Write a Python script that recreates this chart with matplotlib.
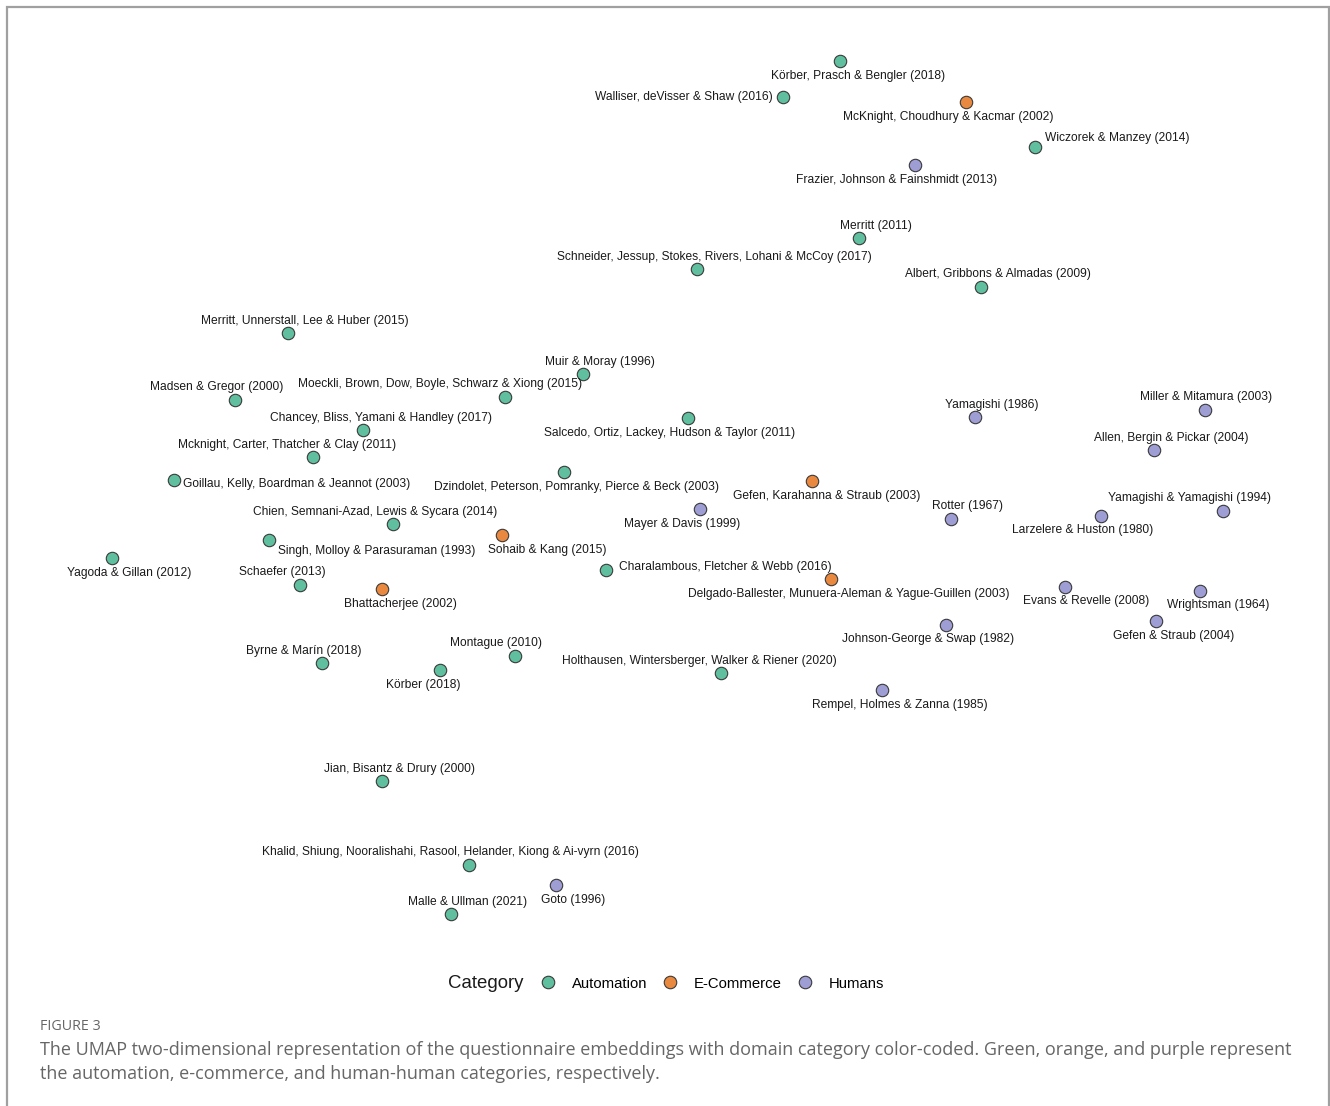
import matplotlib
matplotlib.use("Agg")
import matplotlib.pyplot as plt
from matplotlib.lines import Line2D

plt.rcParams['font.family'] = ['Liberation Sans', 'DejaVu Sans']

# ---- data (UMAP coordinates) ----
labels = [
    "Körber, Prasch & Bengler (2018)",
    "Walliser, deVisser & Shaw (2016)",
    "McKnight, Choudhury & Kacmar (2002)",
    "Wiczorek & Manzey (2014)",
    "Frazier, Johnson & Fainshmidt (2013)",
    "Merritt (2011)",
    "Schneider, Jessup, Stokes, Rivers, Lohani & McCoy (2017)",
    "Albert, Gribbons & Almadas (2009)",
    "Merritt, Unnerstall, Lee & Huber (2015)",
    "Muir & Moray (1996)",
    "Moeckli, Brown, Dow, Boyle, Schwarz & Xiong (2015)",
    "Madsen & Gregor (2000)",
    "Chancey, Bliss, Yamani & Handley (2017)",
    "Salcedo, Ortiz, Lackey, Hudson & Taylor (2011)",
    "Mcknight, Carter, Thatcher & Clay (2011)",
    "Yamagishi (1986)",
    "Miller & Mitamura (2003)",
    "Allen, Bergin & Pickar (2004)",
    "Goillau, Kelly, Boardman & Jeannot (2003)",
    "Dzindolet, Peterson, Pomranky, Pierce & Beck (2003)",
    "Gefen, Karahanna & Straub (2003)",
    "Rotter (1967)",
    "Yamagishi & Yamagishi (1994)",
    "Larzelere & Huston (1980)",
    "Mayer & Davis (1999)",
    "Chien, Semnani-Azad, Lewis & Sycara (2014)",
    "Sohaib & Kang (2015)",
    "Singh, Molloy & Parasuraman (1993)",
    "Yagoda & Gillan (2012)",
    "Charalambous, Fletcher & Webb (2016)",
    "Schaefer (2013)",
    "Delgado-Ballester, Munuera-Aleman & Yague-Guillen (2003)",
    "Bhattacherjee (2002)",
    "Evans & Revelle (2008)",
    "Wrightsman (1964)",
    "Gefen & Straub (2004)",
    "Johnson-George & Swap (1982)",
    "Montague (2010)",
    "Byrne & Marín (2018)",
    "Holthausen, Wintersberger, Walker & Riener (2020)",
    "Körber (2018)",
    "Rempel, Holmes & Zanna (1985)",
    "Jian, Bisantz & Drury (2000)",
    "Khalid, Shiung, Nooralishahi, Rasool, Helander, Kiong & Ai-vyrn (2016)",
    "Goto (1996)",
    "Malle & Ullman (2021)",
]

umap_x = [840, 783, 966, 1035, 915, 859, 697, 981, 288, 583, 505, 235, 363, 688,
          313, 975, 1205, 1154, 174, 564, 812, 951, 1223, 1101, 700, 393, 502,
          269, 112, 606, 300, 831, 382, 1065, 1200, 1156, 946, 515, 322, 721,
          440, 882, 382, 469, 556, 451]
umap_y = [61, 97, 102, 147, 165, 238, 269, 287, 333, 374, 397, 400, 430, 418,
          457, 417, 410, 450, 480, 472, 481, 519, 511, 516, 509, 524, 535,
          540, 558, 570, 585, 579, 589, 587, 591, 621, 625, 656, 663, 673,
          670, 690, 781, 865, 885, 914]

category = ["Automation", "Automation", "E-Commerce", "Automation", "Humans",
            "Automation", "Automation", "Automation", "Automation", "Automation",
            "Automation", "Automation", "Automation", "Automation", "Automation",
            "Humans", "Humans", "Humans", "Automation", "Automation",
            "E-Commerce", "Humans", "Humans", "Humans", "Humans",
            "Automation", "E-Commerce", "Automation", "Automation", "Automation",
            "Automation", "E-Commerce", "E-Commerce", "Humans", "Humans",
            "Humans", "Humans", "Automation", "Automation", "Automation",
            "Automation", "Humans", "Automation", "Automation", "Humans",
            "Automation"]

categories = ["Automation", "E-Commerce", "Humans"]

# ---- label placement (pixel offsets from point, image-down y; alignment) ----
lab_dx = [18, -10, -18, 10, -18, 17, 17, 17, 17, 17, -65, -18, 18, -18, -26, 17,
          1, 17, 9, 13, 15, 17, -33, -18, -18, -18, 45, 9, 17, 13, -18, 18, 18,
          21, 18, 18, -18, -19, -18, -22, -17, 18, 17, -19, 17, 17]
lab_dy = [14, -1, 14, -10, 14, -13, -13, -14, -13, -13, -14, -14, -13, 14, -13,
          -13, -14, -13, 3, 14, 14, -14, -14, 13, 14, -13, 14, 10, 14, -4, -14,
          14, 14, 13, 13, 14, 13, -14, -13, -13, 14, 14, -13, -14, 14, -13]
lab_ha = ["center", "right", "center", "left", "center", "center", "center",
          "center", "center", "center", "center", "center", "center", "center",
          "center", "center", "center", "center", "left", "center", "center",
          "center", "center", "center", "center", "center", "center", "left",
          "center", "left", "center", "center", "center", "center", "center",
          "center", "center", "center", "center", "center", "center", "center",
          "center", "center", "center", "center"]

palette = {"Automation": "#5fbf9e", "E-Commerce": "#e8893f", "Humans": "#9e9dd4"}

W, H = 1330, 1106
fig = plt.figure(figsize=(W / 100, H / 100), dpi=100)
ax = fig.add_axes([0, 0, 1, 1])
ax.set_xlim(0, W)
ax.set_ylim(H, 0)
ax.axis("off")

# border
ax.plot([7, 7, 1329, 1329], [1120, 7, 7, 1120], color="#a0a0a0", lw=1.6,
        solid_joinstyle="miter", clip_on=False)

for cat in categories:
    xs = [x for x, c in zip(umap_x, category) if c == cat]
    ys = [y for y, c in zip(umap_y, category) if c == cat]
    ax.scatter(xs, ys, s=80, color=palette[cat], edgecolor="#3a3a3a",
               linewidth=0.8, zorder=3)

for lab, x, y, dx, dy, ha in zip(labels, umap_x, umap_y, lab_dx, lab_dy, lab_ha):
    ax.annotate(lab, (x, y), xytext=(dx, -dy + -1), textcoords="offset pixels",
                ha=ha, va="center", fontsize=8.65, color="#1a1a1a", zorder=4)

# legend
fig.text(448 / W, 1 - 983 / H, "Category", fontsize=13.4, va="center", ha="left",
         color="#1a1a1a")
handles = [Line2D([], [], marker="o", linestyle="none", markersize=9,
                  markerfacecolor=palette[c], markeredgecolor="#3a3a3a",
                  markeredgewidth=0.8) for c in categories]
fig.legend(handles, categories, loc="center left",
           bbox_to_anchor=(539 / W, 1 - 983.5 / H), ncol=3, frameon=False,
           fontsize=10.7, handletextpad=1.0, columnspacing=0.95,
           borderpad=0, borderaxespad=0, handlelength=1.2)

# caption
fig.text(40 / W, 1 - 1027 / H, "FIGURE 3", fontsize=10.3, color="#666666",
         family=["Open Sans", "DejaVu Sans"], va="center", ha="left")
fig.text(40 / W, 1 - 1050 / H,
         "The UMAP two-dimensional representation of the questionnaire embeddings with domain category color-coded. Green, orange, and purple represent",
         fontsize=12.95, color="#666666", family=["Open Sans", "DejaVu Sans"],
         va="center", ha="left")
fig.text(40 / W, 1 - 1074 / H,
         "the automation, e-commerce, and human-human categories, respectively.",
         fontsize=12.95, color="#666666", family=["Open Sans", "DejaVu Sans"],
         va="center", ha="left")

fig.savefig("out.png", dpi=100, facecolor="white")
